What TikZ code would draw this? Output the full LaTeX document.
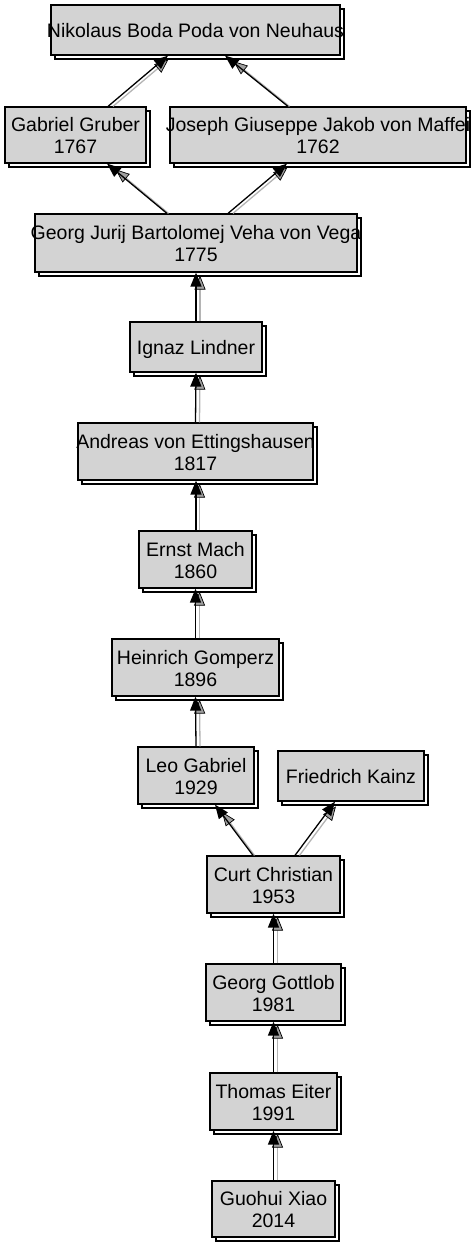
\documentclass[tikz,border=0pt]{standalone}
\usepackage{fontspec}
\setmainfont{Liberation Sans}
\usetikzlibrary{arrows.meta,shadows}
\definecolor{boxfill}{HTML}{D3D3D3}
\definecolor{lgray}{HTML}{B4B4B4}
\definecolor{mgray}{HTML}{A0A0A0}
\newcommand{\gtxt}[1]{\begin{tabular}{@{}c@{}}#1\end{tabular}}
\begin{document}
\begin{tikzpicture}[x=1pt,y=-1pt,
  box/.style={draw=black, fill=boxfill, line width=1.2pt, inner sep=0pt, rectangle,
    general shadow={shadow xshift=4pt, shadow yshift=-4pt, fill=white, draw=black, line width=1.2pt}},
  txt/.style={inner sep=0pt, font=\fontsize{19.5}{22}\selectfont},
  blk/.style={draw=black, line width=1.3pt, -{Triangle[length=14pt,width=11pt]}},
  gry/.style={draw=lgray, line width=1.3pt, -{Triangle[length=14pt,width=11pt,color=black,fill=mgray,line width=0.7pt]}}
]
\useasboundingbox (0,0) rectangle (471,1244);
% nodes
\node[box, minimum width=289pt, minimum height=50pt] (neu) at (195.5,30) {};
\node[box, minimum width=141pt, minimum height=56pt] (gru) at (75.5,135) {};
\node[box, minimum width=296pt, minimum height=56pt] (maf) at (318,135) {};
\node[box, minimum width=322pt, minimum height=58pt] (veg) at (196,243) {};
\node[box, minimum width=132pt, minimum height=50pt] (lin) at (196,347) {};
\node[box, minimum width=235pt, minimum height=57pt] (ett) at (195.5,451.5) {};
\node[box, minimum width=113pt, minimum height=57pt] (mac) at (195.5,559.5) {};
\node[box, minimum width=167pt, minimum height=57pt] (gom) at (195.5,667.5) {};
\node[box, minimum width=116pt, minimum height=57pt] (leo) at (196,775.5) {};
\node[box, minimum width=146pt, minimum height=50pt] (kai) at (351,776) {};
\node[box, minimum width=133pt, minimum height=57pt] (cur) at (273.5,884.5) {};
\node[box, minimum width=135pt, minimum height=57pt] (got) at (273.5,992.5) {};
\node[box, minimum width=127pt, minimum height=57pt] (eit) at (273.5,1101.5) {};
\node[box, minimum width=123pt, minimum height=56pt] (xia) at (273.5,1209) {};
% labels
\node[txt] (neuT) at ([yshift=-3.3pt]neu.center) {\gtxt{Nikolaus Boda Poda von Neuhaus}};
\node[txt] (gruT) at ([yshift=-3.3pt]gru.center) {\gtxt{Gabriel Gruber\\1767}};
\node[txt] (mafT) at ([yshift=-3.3pt]maf.center) {\gtxt{Joseph Giuseppe Jakob von Maffei\\1762}};
\node[txt] (vegT) at ([yshift=-3.3pt]veg.center) {\gtxt{Georg Jurij Bartolomej Veha von Vega\\1775}};
\node[txt] (linT) at ([yshift=-3.3pt]lin.center) {\gtxt{Ignaz Lindner}};
\node[txt] (ettT) at ([yshift=-3.3pt]ett.center) {\gtxt{Andreas von Ettingshausen\\1817}};
\node[txt] (macT) at ([yshift=-3.3pt]mac.center) {\gtxt{Ernst Mach\\1860}};
\node[txt] (gomT) at ([yshift=-3.3pt]gom.center) {\gtxt{Heinrich Gomperz\\1896}};
\node[txt] (leoT) at ([yshift=-3.3pt]leo.center) {\gtxt{Leo Gabriel\\1929}};
\node[txt] (kaiT) at ([yshift=-3.3pt]kai.center) {\gtxt{Friedrich Kainz}};
\node[txt] (curT) at ([yshift=-3.3pt]cur.center) {\gtxt{Curt Christian\\1953}};
\node[txt] (gotT) at ([yshift=-3.3pt]got.center) {\gtxt{Georg Gottlob\\1981}};
\node[txt] (eitT) at ([yshift=-3.3pt]eit.center) {\gtxt{Thomas Eiter\\1991}};
\node[txt] (xiaT) at ([yshift=-3.3pt]xia.center) {\gtxt{Guohui Xiao\\2014}};
% edges: up-right
\draw[gry, shorten >=6pt] ([xshift=37.5pt]gru.north) -- ([xshift=-22.5pt]neu.south);
\draw[blk] ([xshift=32.5pt]gru.north) -- ([xshift=-27.5pt]neu.south);
\draw[gry, shorten >=6pt] ([xshift=37pt]veg.north) -- ([xshift=-26pt]maf.south);
\draw[blk] ([xshift=32pt]veg.north) -- ([xshift=-31pt]maf.south);
\draw[gry, shorten >=6pt] ([xshift=26pt]cur.north) -- ([xshift=-11.5pt]kai.south);
\draw[blk] ([xshift=21.5pt]cur.north) -- ([xshift=-16pt]kai.south);
% edges: up-left
\draw[gry, shorten >=9pt] ([xshift=-28.5pt]maf.north) -- ([xshift=31pt]neu.south);
\draw[blk] ([xshift=-30pt]maf.north) -- ([xshift=29.5pt]neu.south);
\draw[gry, shorten >=9pt] ([xshift=-27.5pt]veg.north) -- ([xshift=33pt]gru.south);
\draw[blk] ([xshift=-29pt]veg.north) -- ([xshift=31.5pt]gru.south);
\draw[gry, shorten >=9pt] ([xshift=-19pt]cur.north) -- ([xshift=20.5pt]leo.south);
\draw[blk] ([xshift=-20.5pt]cur.north) -- ([xshift=19pt]leo.south);
% edges: vertical
\foreach \a/\b in {lin/veg, ett/lin, gom/mac, leo/gom, got/cur, eit/got, xia/eit} {
  \draw[gry, shorten >=3pt] ([xshift=4pt]\a.north) -- ([xshift=4pt]\b.south);
  \draw[blk] (\a.north) -- (\b.south);
}
\draw[gry, shorten >=3pt] ([xshift=4pt]mac.north) -- ([xshift=4pt]ett.south);
\draw[blk] ([xshift=0.5pt]mac.north) -- ([xshift=0.5pt]ett.south);
\end{tikzpicture}
\end{document}
